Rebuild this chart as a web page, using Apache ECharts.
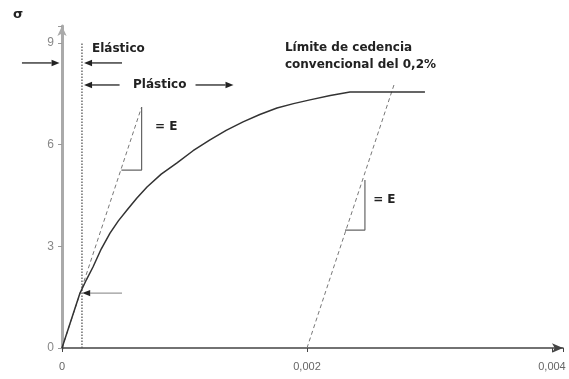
<!DOCTYPE html>
<html><head><meta charset="utf-8">
<script src="https://cdn.jsdelivr.net/npm/echarts@6/dist/echarts.min.js"></script>
<style>html,body{margin:0;padding:0;background:#fff}#c{width:569px;height:379px}</style>
</head><body><div id="c"></div>
<script>
// stress-strain curve
const curveX = [0, 0.000147, 0.000200, 0.000253, 0.000320, 0.000392, 0.000460, 0.000531, 0.000610, 0.000694, 0.000810, 0.000939, 0.001070, 0.001208, 0.001340, 0.001478, 0.001615, 0.001755, 0.001890, 0.002024, 0.002190, 0.002351, 0.002963];
const curveY = [0, 1.62, 2.02, 2.39, 2.92, 3.39, 3.75, 4.07, 4.42, 4.75, 5.13, 5.46, 5.82, 6.14, 6.42, 6.67, 6.89, 7.08, 7.21, 7.32, 7.45, 7.55, 7.55];
// slope-E line from origin and 0.2% offset line
const elasticLineX = [0, 0.00065];
const elasticLineY = [0, 7.11];
const offsetLineX = [0.002, 0.00271];
const offsetLineY = [0, 7.76];
// slope triangles
const tri1X = [0.000485, 0.00065, 0.00065];
const tri1Y = [5.25, 5.25, 7.11];
const tri2X = [0.00231, 0.002473, 0.002473];
const tri2Y = [3.48, 3.48, 4.96];
// elastic limit (dotted)
const limitX = [0.000163, 0.000163];
const limitY = [0, 9];
// tick labels
const xTicks = [0, 0.002, 0.004];
const xTickLabels = ['0', '0,002', '0,004'];
const yTicks = [0, 3, 6, 9];
const yTickLabels = ['0', '3', '6', '9'];

const zip = (a, b) => a.map((v, i) => [v, b[i]]);
const FONT = '"Liberation Sans", Arial, sans-serif';
const BFONT = '"DejaVu Sans", sans-serif';

const chart = echarts.init(document.getElementById('c'), null, {renderer: 'canvas'});
const option = {
  animation: false,
  grid: {left: 62, right: 6, top: 26, bottom: 31},
  xAxis: {
    type: 'value', min: 0, max: 0.00409, interval: 0.002,
    splitLine: {show: false},
    axisLine: {lineStyle: {color: '#444', width: 1.5}, symbol: ['none', 'arrow'], symbolSize: [7, 11]},
    axisTick: {show: true, length: 4, lineStyle: {color: '#444'}},
    axisLabel: {
      margin: 13, color: '#666', fontSize: 11, fontFamily: FONT,
      formatter: v => { const i = xTicks.findIndex(t => Math.abs(t - v) < 1e-9); return i < 0 ? '' : xTickLabels[i]; }
    }
  },
  yAxis: {
    type: 'value', min: 0, max: 9.5, interval: 3,
    splitLine: {show: false},
    axisLine: {lineStyle: {color: '#aaa', width: 3}, symbol: ['none', 'arrow'], symbolSize: [7, 10]},
    axisTick: {show: true, length: 4, lineStyle: {color: '#999'}},
    axisLabel: {
      margin: 8, color: '#888', fontSize: 12, fontFamily: FONT,
      formatter: v => { const i = yTicks.findIndex(t => Math.abs(t - v) < 1e-9); return i < 0 ? '' : yTickLabels[i]; }
    }
  },
  series: [
    {type: 'line', data: zip(limitX, limitY), symbol: 'none', lineStyle: {color: '#555', width: 1.3, type: [1.5, 1.5]}},
    {type: 'line', data: zip(elasticLineX, elasticLineY), symbol: 'none', lineStyle: {color: '#777', width: 1, type: [4, 3]}},
    {type: 'line', data: zip(offsetLineX, offsetLineY), symbol: 'none', lineStyle: {color: '#777', width: 1, type: [4, 3]}},
    {type: 'line', data: zip(tri1X, tri1Y), symbol: 'none', lineStyle: {color: '#666', width: 1.2}},
    {type: 'line', data: zip(tri2X, tri2Y), symbol: 'none', lineStyle: {color: '#666', width: 1.2}},
    {type: 'line', data: zip(curveX, curveY), symbol: 'none', lineStyle: {color: '#333', width: 1.5, join: 'round'}}
  ]
};
chart.setOption(option);

const P = (x, y) => chart.convertToPixel({gridIndex: 0}, [x, y]);
function arrow(from, to, color, headColor) {
  const a = P(from[0], from[1]), b = P(to[0], to[1]);
  const dx = b[0] - a[0], dy = b[1] - a[1], L = Math.hypot(dx, dy), ux = dx / L, uy = dy / L;
  const hl = 8, hw = 3.2;
  const base = [b[0] - ux * hl, b[1] - uy * hl];
  return [
    {type: 'line', shape: {x1: a[0], y1: a[1], x2: base[0], y2: base[1]}, style: {stroke: color, lineWidth: 1.3}},
    {type: 'polygon', shape: {points: [b, [base[0] - uy * hw, base[1] + ux * hw], [base[0] + uy * hw, base[1] - ux * hw]]}, style: {fill: headColor || color}}
  ];
}
function label(text, x, y, opts) {
  const p = P(x, y);
  return {type: 'text', x: p[0], y: p[1], style: Object.assign({text: text, fill: '#222', font: 'bold 12px ' + BFONT, textAlign: 'left', textVerticalAlign: 'middle'}, opts || {})};
}
const elements = [].concat(
  arrow([-0.000327, 8.41], [-0.00002, 8.41], '#222'),
  arrow([0.00049, 8.41], [0.00018, 8.41], '#222'),
  arrow([0.00047, 7.76], [0.00018, 7.76], '#222'),
  arrow([0.00109, 7.76], [0.0014, 7.76], '#222'),
  arrow([0.00049, 1.62], [0.000165, 1.62], '#999', '#222'),
  [
    label('Elástico', 0.000245, 8.82),
    label('Plástico', 0.00058, 7.76),
    label('Límite de cedencia', 0.00182, 8.85),
    label('convencional del 0,2%', 0.00182, 8.35),
    label('= E', 0.00076, 6.52),
    label('= E', 0.00254, 4.37),
    label('σ', -0.000359, 9.85, {font: 'bold 13px ' + BFONT, textAlign: 'center'})
  ]
);
chart.setOption({graphic: {elements: elements}});
</script>
</body></html>
